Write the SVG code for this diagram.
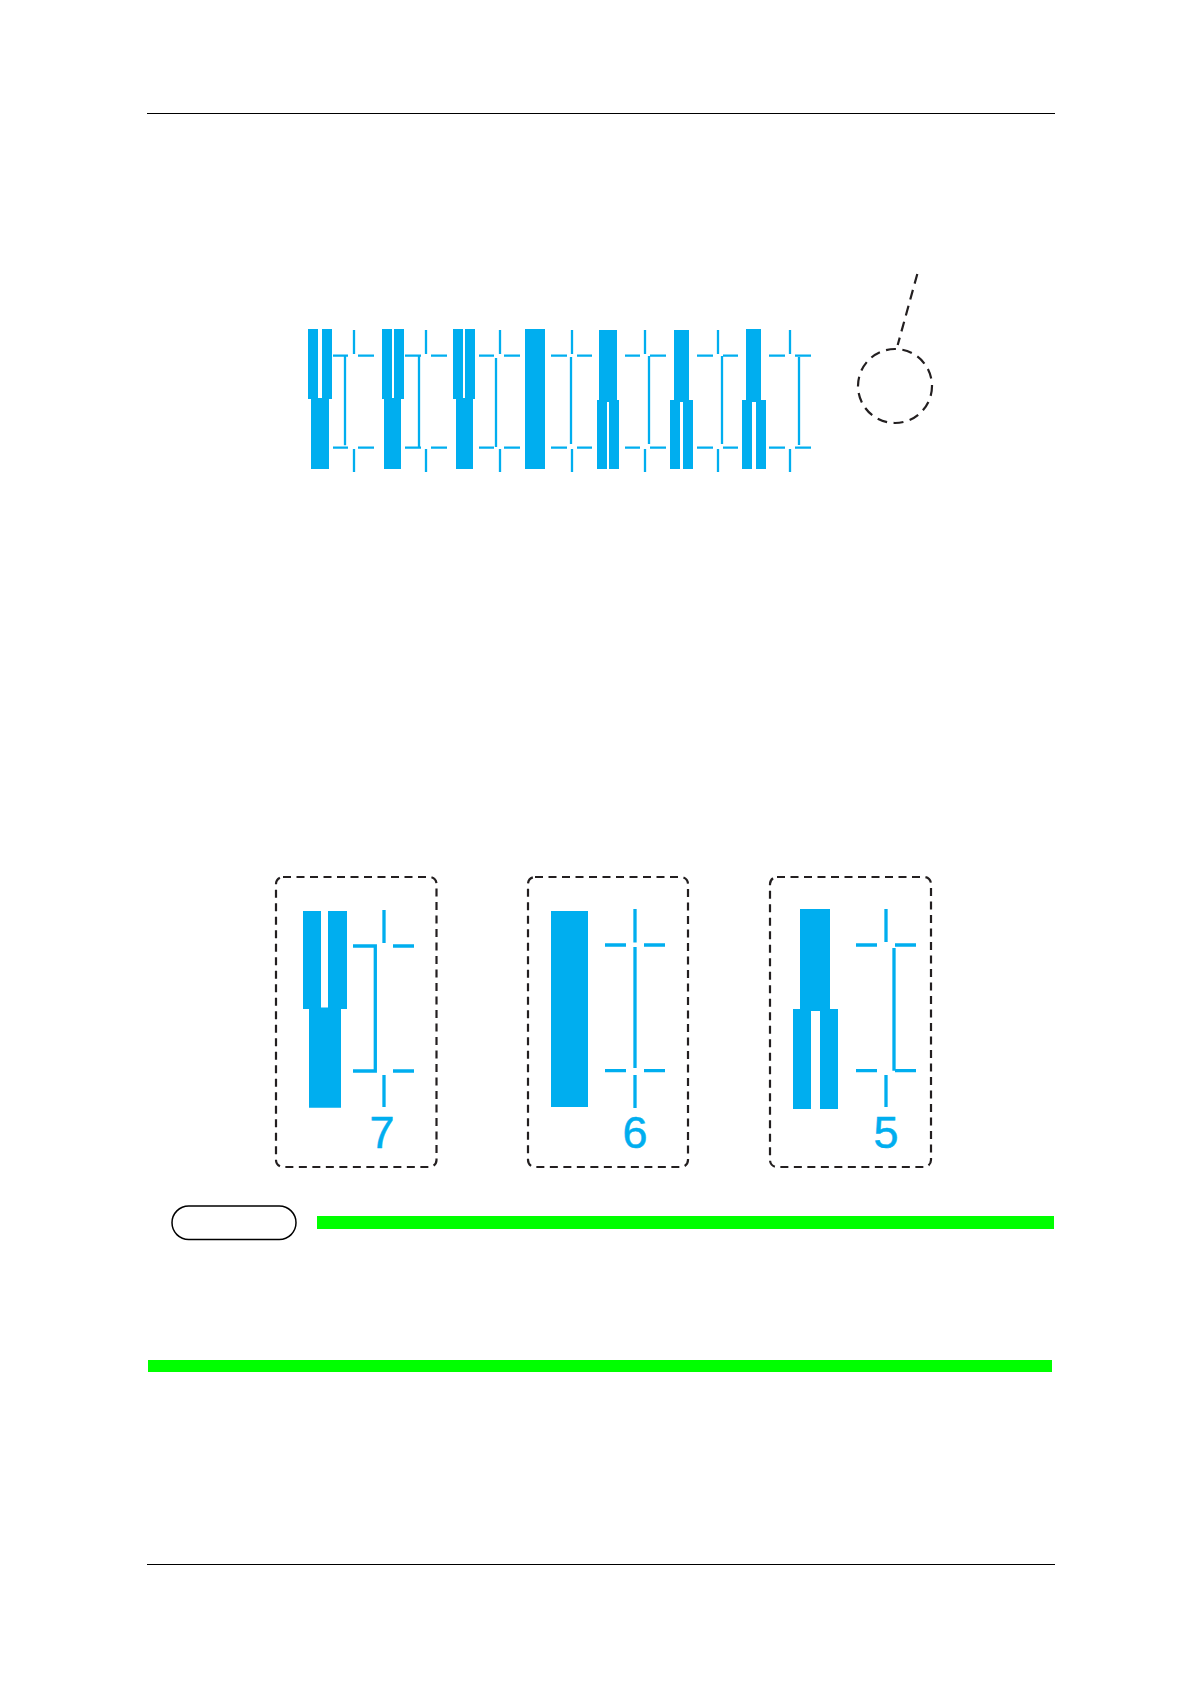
<svg xmlns="http://www.w3.org/2000/svg" width="1190" height="1684" viewBox="0 0 1190 1684">
<style>
.b{fill:#00aeef}
.t{fill:none;stroke:#00aeef;stroke-width:2.300}
.m{fill:none;stroke:#00aeef;stroke-width:3.300}
.d{fill:none;stroke:#231f20;stroke-width:2.200;stroke-dasharray:8 5.500}
.c{fill:none;stroke:#231f20;stroke-width:2.200;stroke-dasharray:10 6.500}
.r{fill:none;stroke:#000;stroke-width:1.200}
.g{fill:#00ff00}
.n{fill:#00aeef;stroke:#00aeef;stroke-width:.5;font-family:"Liberation Sans",Arial,sans-serif;font-size:45px;text-anchor:middle}
</style>
<rect width="1190" height="1684" fill="#fff"/>
<g id="page-rules">
<path class="r" d="M147 113.500H1055M147 1564.500H1055"/>
</g>
<g id="strip">
<g id="pattern-1"><path class="b" d="M308 329h10v69h4v-69h10v70h-3v70h-18v-70h-3z"/><path class="t" d="M333 355.700h15M358 355.700h16M333 447.700h15M358 447.700h16M354 330v24M354 449v23M345 356.700v88.500"/></g>
<g id="pattern-2"><path class="b" d="M382 329h10v69h2v-69h10v70h-3v70h-17v-70h-2z"/><path class="t" d="M405 355.700h16M431 355.700h16M405 447.700h16M431 447.700h16M426 330v24M426 449v23M419 356.700v90"/></g>
<g id="pattern-3"><path class="b" d="M453 329h10v69h2v-69h10v70h-2v70h-17v-70h-3z"/><path class="t" d="M479 355.700h15M504 355.700h16M479 447.700h15M504 447.700h16M500 330v24M500 449v23M496 358v89"/></g>
<g id="pattern-4"><rect class="b" x="525" y="329" width="20" height="140"/><path class="t" d="M551 355.700h16M577 355.700h15M551 447.700h16M577 447.700h15M572 330v24M572 449v23M571 357v87"/></g>
<g id="pattern-5"><path class="b" d="M599 330h18v70h2v69h-10v-67h-2v67h-10v-69h2z"/><path class="t" d="M625 355.700h15M650 355.700h16M625 447.700h15M650 447.700h16M645 330v24M645 449v23M649 356v88"/></g>
<g id="pattern-6"><path class="b" d="M674 330h15v70h4v69h-10v-67h-3v67h-10v-69h4z"/><path class="t" d="M697 355.700h16M723 355.700h15M697 447.700h16M723 447.700h15M718 330v24M718 449v23M722 356v88"/></g>
<g id="pattern-7"><path class="b" d="M746 329h15v71h5v69h-10v-67h-4v67h-10v-69h4z"/><path class="t" d="M769 355.700h16M795 355.700h16M769 447.700h16M795 447.700h16M790 330v24M790 449v23M799 357v88"/></g>
</g>
<g id="callout">
<circle class="c" cx="895" cy="386" r="37"/>
<path class="c" d="M917.300 274L897.700 345"/>
</g>
<g id="detail-7">
<rect class="d" x="276" y="877" width="160.500" height="290" rx="7"/>
<path class="b" d="M303 911h18v96.500h7V911h19v98h-6v98.700h-32V1009h-6z"/>
<path class="m" d="M353 946h22.300v125H353M393 946h21M393 1071h21M384 910v33M384 1075v32"/>
<text class="n" x="382" y="1148">7</text>
</g>
<g id="detail-6">
<rect class="d" x="528" y="877" width="160" height="290" rx="7"/>
<rect class="b" x="551" y="911" width="37" height="196"/>
<path class="m" d="M605 945h21M644 945h21M605 1070.700h21M644 1070.700h21M635 909v33.500M635 947v121M635 1075v33"/>
<text class="n" x="635" y="1148">6</text>
</g>
<g id="detail-5">
<rect class="d" x="770" y="877" width="161" height="290" rx="7"/>
<path class="b" d="M800 909h30v100h8v100h-18v-98h-9v98h-18V1009h7z"/>
<path class="m" d="M856 945h21M895 945h21M856 1070.700h21M895 1070.700h21M886 909v33M886 1075v32M894 948v122.700"/>
<text class="n" x="886" y="1148">5</text>
</g>
<g id="note">
<rect x="172" y="1206" width="124" height="33.500" rx="16.700" fill="#fff" stroke="#000" stroke-width="1.500"/>
<rect class="g" x="317" y="1216" width="737" height="13"/>
<rect class="g" x="148" y="1360" width="904" height="12"/>
</g>
</svg>
